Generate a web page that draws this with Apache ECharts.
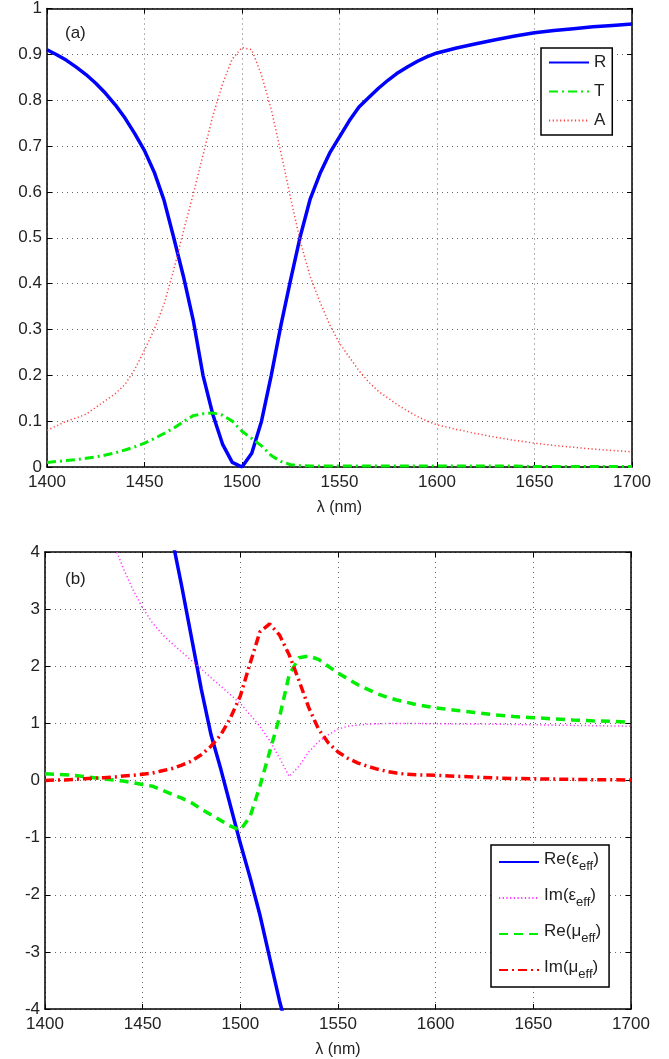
<!DOCTYPE html>
<html><head><meta charset="utf-8">
<script src="https://cdn.jsdelivr.net/npm/echarts@6/dist/echarts.min.js"></script>
<style>html,body{margin:0;padding:0;background:#fff}#c{width:669px;height:1059px}</style>
</head><body><div id="c"></div>
<script>
// wavelength grid (nm)
const lam = [1400,1405,1410,1415,1420,1425,1430,1435,1440,1445,1450,1455,1460,1465,1470,1475,1480,1485,1490,1495,
  1500,1505,1510,1515,1520,1525,1530,1535,1540,1545,1550,1555,1560,1565,1570,1575,1580,1585,1590,1595,1600,
  1610,1620,1630,1640,1650,1660,1670,1680,1690,1700];
// panel (a)
const R = [0.91,0.899,0.887,0.872,0.856,0.837,0.815,0.79,0.761,0.727,0.69,0.643,0.582,0.5,0.415,0.32,0.20,0.115,0.05,0.01,
  0.0,0.03,0.10,0.20,0.31,0.41,0.505,0.585,0.64,0.685,0.72,0.755,0.785,0.806,0.826,0.844,0.86,0.873,0.885,0.895,0.903,
  0.914,0.923,0.932,0.940,0.947,0.952,0.956,0.960,0.963,0.966];
const T = [0.010,0.012,0.014,0.016,0.019,0.022,0.026,0.031,0.037,0.044,0.052,0.062,0.073,0.085,0.099,0.112,0.116,0.118,0.113,0.10,
  0.078,0.062,0.046,0.025,0.012,0.005,0.003,0.002,0.002,0.002,0.002,0.002,0.002,0.002,0.002,0.002,0.002,0.002,0.002,0.002,0.002,
  0.002,0.002,0.002,0.002,0.001,0.001,0.001,0.001,0.001,0.001];
const A = [0.08,0.09,0.10,0.107,0.115,0.13,0.145,0.16,0.18,0.213,0.255,0.30,0.355,0.43,0.515,0.595,0.68,0.765,0.835,0.89,
  0.915,0.91,0.855,0.78,0.685,0.585,0.49,0.415,0.36,0.31,0.27,0.24,0.21,0.185,0.165,0.15,0.135,0.122,0.11,0.10,0.092,
  0.082,0.073,0.065,0.058,0.052,0.047,0.043,0.039,0.036,0.033];
// panel (b)
const reEps = [null,null,null,null,null,null,null,null,null,null,null,null,null,4.25,3.4,2.5,1.6,0.8,0.2,-0.45,
  -1.1,-1.7,-2.35,-3.1,-3.85,-4.5,null,null,null,null,null,null,null,null,null,null,null,null,null,null,null,
  null,null,null,null,null,null,null,null,null,null];
const imEps = [null,null,null,null,null,null,4.6,4.15,3.72,3.34,3.02,2.76,2.56,2.4,2.25,2.1,1.95,1.8,1.65,1.5,
  1.35,1.15,0.95,0.7,0.4,0.07,0.25,0.5,0.68,0.8,0.9,0.95,0.97,0.985,0.99,1.0,1.0,1.0,1.0,0.995,0.995,
  0.99,0.99,0.985,0.98,0.975,0.97,0.965,0.96,0.955,0.95];
const reMu = [0.12,0.11,0.10,0.09,0.07,0.05,0.03,0.01,-0.01,-0.04,-0.07,-0.10,-0.17,-0.24,-0.31,-0.39,-0.5,-0.6,-0.7,-0.8,
  -0.87,-0.63,-0.1,0.5,1.1,1.85,2.15,2.18,2.12,2.0,1.88,1.78,1.68,1.6,1.52,1.46,1.41,1.37,1.33,1.3,1.27,
  1.23,1.19,1.15,1.12,1.10,1.08,1.06,1.045,1.035,1.02];
const imMu = [0.0,0.01,0.01,0.02,0.03,0.04,0.05,0.06,0.08,0.09,0.11,0.13,0.17,0.21,0.27,0.34,0.45,0.6,0.8,1.1,
  1.48,2.05,2.6,2.74,2.55,2.2,1.75,1.28,0.9,0.66,0.5,0.39,0.31,0.25,0.2,0.16,0.13,0.11,0.1,0.095,0.09,
  0.075,0.06,0.045,0.035,0.03,0.025,0.02,0.015,0.012,0.01];

const pair = arr => lam.map((x,i)=>[x,arr[i]]);
const FONT = 'Liberation Sans';
const TXT = '#222';
const GRIDLINE = {color:'#666', width:1, type:[1,4]};

function xAx(gi, pos, showLbl){
  return {type:'value', gridIndex:gi, position:pos, min:1400, max:1700, interval:50,
    name: showLbl ? 'λ (nm)' : '', nameLocation:'middle', nameGap:33,
    nameTextStyle:{fontFamily:FONT, fontSize:16, color:TXT},
    axisLine:{show:true, onZero:false, lineStyle:{color:'#000', width:1.5}},
    axisTick:{show:true, inside:true, length:5, lineStyle:{color:'#000', width:1}},
    axisLabel:{show:showLbl, fontFamily:FONT, fontSize:17, color:TXT, margin:7, formatter: v => String(v)},
    splitLine:{show:showLbl, lineStyle:GRIDLINE}};
}
function yAx(gi, pos, showLbl, mn, mx, iv){
  return {type:'value', gridIndex:gi, position:pos, min:mn, max:mx, interval:iv,
    axisLine:{show:true, onZero:false, lineStyle:{color:'#000', width:1.5}},
    axisTick:{show:true, inside:true, length:5, lineStyle:{color:'#000', width:1}},
    axisLabel:{show:showLbl, fontFamily:FONT, fontSize:17, color:TXT, margin:5,
      formatter: v => String(Math.round(v*10)/10)},
    splitLine:{show:showLbl, lineStyle:GRIDLINE}};
}
function ser(name, xi, arr, color, width, type){
  return {name, type:'line', xAxisIndex:xi, yAxisIndex:xi, data:pair(arr), symbol:'none',
    showSymbol:false, clip:true, connectNulls:false, animation:false,
    lineStyle:{color, width, type}, itemStyle:{color}};
}

const chart = echarts.init(document.getElementById('c'), null, {renderer:'canvas'});
chart.setOption({
  animation:false,
  backgroundColor:'#fff',
  grid:[{left:47, top:7, width:585, height:460},{left:45, top:552, width:586, height:461}],
  xAxis:[xAx(0,'bottom',true), xAx(0,'top',false), xAx(1,'bottom',true), xAx(1,'top',false)],
  yAxis:[yAx(0,'left',true,0,1,0.1), yAx(0,'right',false,0,1,0.1), yAx(1,'left',true,-4,4,1), yAx(1,'right',false,-4,4,1)],
  legend:[
    {data:['R','T','A'], orient:'vertical', left:541, top:48, itemWidth:40, itemHeight:14, itemGap:12,
     padding:[6,6,6,7], borderColor:'#000', borderWidth:1.5, backgroundColor:'#fff',
     itemStyle:{opacity:0},
     textStyle:{fontFamily:FONT, fontSize:17, color:TXT}},
    {data:['Re(ε_eff)','Im(ε_eff)','Re(μ_eff)','Im(μ_eff)'], orient:'vertical', left:491, top:845,
     itemWidth:40, itemHeight:14, itemGap:14, padding:[6,8,6,7], borderColor:'#000', borderWidth:1.5, backgroundColor:'#fff',
     itemStyle:{opacity:0},
     formatter: n => { const p = n.split('_'); return '{m|'+p[0]+'}{s|'+p[1].replace(')','')+'}{m|)}'; },
     textStyle:{fontFamily:FONT, fontSize:17, color:TXT,
       rich:{m:{fontFamily:FONT, fontSize:17, color:TXT, lineHeight:22, verticalAlign:'top'},
             s:{fontFamily:FONT, fontSize:13, color:TXT, lineHeight:22, verticalAlign:'bottom', padding:[9,0,0,0]}}}}
  ],
  series:[
    ser('R', 0, R, '#0000ff', 3.5, 'solid'),
    ser('T', 0, T, '#00ee00', 3, [9,4,2,4]),
    ser('A', 0, A, '#ff4040', 1.5, [1.2,2.5]),
    ser('Re(ε_eff)', 2, reEps, '#0000ff', 3.5, 'solid'),
    ser('Im(ε_eff)', 2, imEps, '#ff33ff', 1.5, [1.2,2.5]),
    ser('Re(μ_eff)', 2, reMu, '#00ee00', 3.5, [9,6]),
    ser('Im(μ_eff)', 2, imMu, '#ff0000', 3.5, [9,4,2,4])
  ],
  graphic:[
    {type:'text', left:65, top:25, style:{text:'(a)', fontFamily:FONT, fontSize:17, fill:TXT}},
    {type:'text', left:65, top:571, style:{text:'(b)', fontFamily:FONT, fontSize:17, fill:TXT}}
  ]
});
</script></body></html>
